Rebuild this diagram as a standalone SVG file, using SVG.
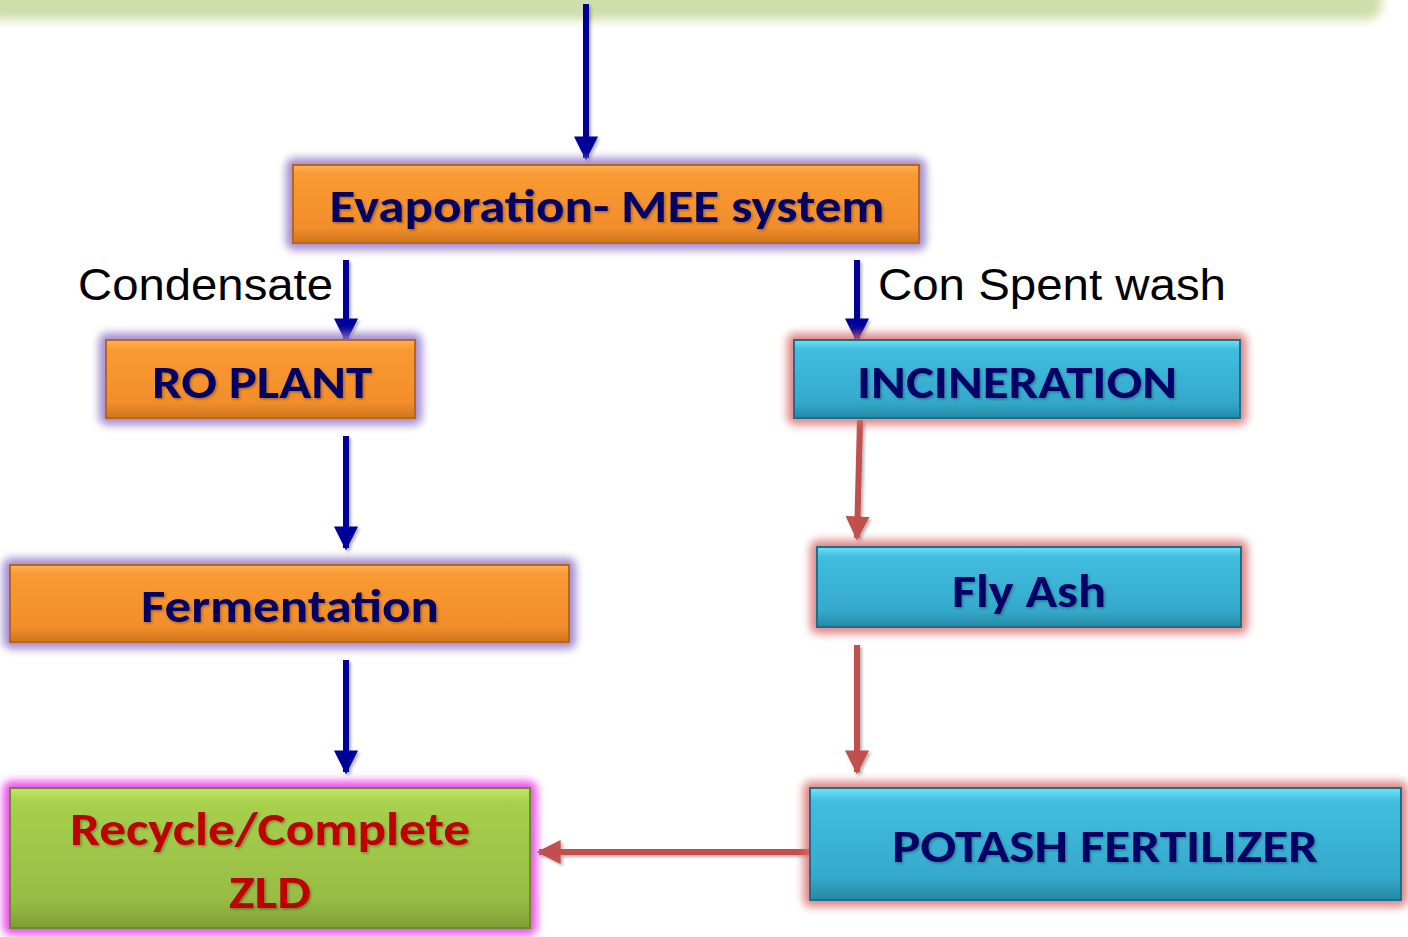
<svg xmlns="http://www.w3.org/2000/svg" width="1408" height="937" viewBox="0 0 1408 937">
<defs>
<linearGradient id="band" x1="0" y1="0" x2="0" y2="1">
<stop offset="0" stop-color="#cddca6"/><stop offset="0.5" stop-color="#cfdeaa"/><stop offset="1" stop-color="#f2f2f0" stop-opacity="0"/>
</linearGradient>
<linearGradient id="orange" x1="0" y1="0" x2="0" y2="1">
<stop offset="0" stop-color="#fcb35a"/><stop offset="0.12" stop-color="#fa9a32"/><stop offset="0.8" stop-color="#f28e2b"/><stop offset="1" stop-color="#cf741c"/>
</linearGradient>
<linearGradient id="blue" x1="0" y1="0" x2="0" y2="1">
<stop offset="0" stop-color="#6fe3f8"/><stop offset="0.12" stop-color="#41bde0"/><stop offset="0.8" stop-color="#35a9cb"/><stop offset="1" stop-color="#2588a6"/>
</linearGradient>
<linearGradient id="green" x1="0" y1="0" x2="0" y2="1">
<stop offset="0" stop-color="#c4e66a"/><stop offset="0.1" stop-color="#a7d04d"/><stop offset="0.8" stop-color="#97bd44"/><stop offset="1" stop-color="#7e9e36"/>
</linearGradient>
<filter id="glow" x="-10%" y="-30%" width="120%" height="160%">
<feGaussianBlur stdDeviation="4"/>
</filter>
<filter id="bandblur" x="-5%" y="-50%" width="110%" height="200%">
<feGaussianBlur stdDeviation="5"/>
</filter>
<filter id="tshadow" x="-5%" y="-20%" width="110%" height="140%">
<feDropShadow dx="1.5" dy="1.5" stdDeviation="1" flood-color="#000" flood-opacity="0.3"/>
</filter>
<filter id="ashadow" x="-50%" y="-10%" width="200%" height="130%">
<feDropShadow dx="2" dy="2" stdDeviation="1.5" flood-color="#000" flood-opacity="0.3"/>
</filter>
<marker id="headBlue" viewBox="0 0 10 10" refX="9" refY="5" markerWidth="4" markerHeight="4" orient="auto" markerUnits="strokeWidth">
<path d="M0,0 L10,5 L0,10 z" fill="#000099"/>
</marker>
<marker id="headRed" viewBox="0 0 10 10" refX="9" refY="5" markerWidth="4" markerHeight="4" orient="auto" markerUnits="strokeWidth">
<path d="M0,0 L10,5 L0,10 z" fill="#c0504d"/>
</marker>
</defs>
<style>
.lbl{font-family:Carlito,"Liberation Sans",Arial,sans-serif;font-weight:bold;font-size:46px;fill:#000066;text-anchor:middle}
.red{fill:#c00000}
.plain{font-family:"Liberation Sans",Arial,sans-serif;font-size:44px;fill:#000}
.ob{fill:url(#orange);stroke:#b8661a;stroke-width:2}
.bb{fill:url(#blue);stroke:#1d6f88;stroke-width:2}
.gb{fill:url(#green);stroke:#6d8a2c;stroke-width:2}
.gp{fill:#9378c8;opacity:0.85;filter:url(#glow)}
.gr{fill:#d86a6a;opacity:0.8;filter:url(#glow)}
.gm{fill:#ec4fec;filter:url(#glow)}
.ab{stroke:#000099;stroke-width:6;fill:none;marker-end:url(#headBlue)}
.ar{stroke:#c0504d;stroke-width:6;fill:none;marker-end:url(#headRed)}
</style>
<rect width="1408" height="937" fill="#fff"/>
<rect x="-20" y="-30" width="1402" height="50" rx="16" fill="#cfdeab" filter="url(#bandblur)"/>

<g id="connectors" filter="url(#ashadow)">
<line class="ab" x1="586" y1="4" x2="586" y2="158"/>
<line class="ab" x1="346" y1="260" x2="346" y2="340"/>
<line class="ab" x1="857" y1="260" x2="857" y2="340"/>
<line class="ab" x1="346" y1="436" x2="346" y2="548"/>
<line class="ab" x1="346" y1="660" x2="346" y2="772"/>
<line class="ar" x1="860" y1="420" x2="857" y2="538"/>
<line class="ar" x1="857" y1="645" x2="857" y2="772"/>
<line class="ar" x1="810" y1="852" x2="539" y2="852"/>
</g>

<g id="mee">
<rect class="gp" x="286" y="158" width="640" height="92" rx="8"/>
<rect class="ob" x="293" y="165" width="626" height="78"/>
<text class="lbl" x="607" y="222" textLength="555" lengthAdjust="spacingAndGlyphs" filter="url(#tshadow)">Evaporation- MEE system</text>
</g>

<g id="label-condensate"><text class="plain" x="78" y="300" textLength="255" lengthAdjust="spacingAndGlyphs">Condensate</text></g>
<g id="label-spent"><text class="plain" x="878" y="300" textLength="348" lengthAdjust="spacingAndGlyphs">Con Spent wash</text></g>

<g id="ro">
<rect class="gp" x="99" y="333" width="323" height="92" rx="8"/>
<rect class="ob" x="106" y="340" width="309" height="78"/>
<text class="lbl" x="262" y="398" textLength="220" lengthAdjust="spacingAndGlyphs" filter="url(#tshadow)">RO PLANT</text>
</g>

<g id="incineration">
<rect class="gr" x="787" y="333" width="460" height="92" rx="8"/>
<rect class="bb" x="794" y="340" width="446" height="78"/>
<text class="lbl" x="1017" y="398" textLength="320" lengthAdjust="spacingAndGlyphs" filter="url(#tshadow)">INCINERATION</text>
</g>

<g id="fermentation">
<rect class="gp" x="3" y="558" width="573" height="91" rx="8"/>
<rect class="ob" x="10" y="565" width="559" height="77"/>
<text class="lbl" x="290" y="622" textLength="298" lengthAdjust="spacingAndGlyphs" filter="url(#tshadow)">Fermentation</text>
</g>

<g id="flyash">
<rect class="gr" x="810" y="540" width="438" height="94" rx="8"/>
<rect class="bb" x="817" y="547" width="424" height="80"/>
<text class="lbl" x="1029" y="607" textLength="154" lengthAdjust="spacingAndGlyphs" filter="url(#tshadow)">Fly Ash</text>
</g>

<g id="recycle">
<rect class="gm" x="3" y="781" width="534" height="154" rx="8"/>
<rect class="gb" x="10" y="788" width="520" height="140"/>
<text class="lbl red" x="270" y="845" textLength="400" lengthAdjust="spacingAndGlyphs" filter="url(#tshadow)">Recycle/Complete</text>
<text class="lbl red" x="270" y="908" textLength="82" lengthAdjust="spacingAndGlyphs" filter="url(#tshadow)">ZLD</text>
</g>

<g id="potash">
<rect class="gr" x="803" y="781" width="605" height="126" rx="8"/>
<rect class="bb" x="810" y="788" width="591" height="112"/>
<text class="lbl" x="1105" y="862" textLength="426" lengthAdjust="spacingAndGlyphs" filter="url(#tshadow)">POTASH FERTILIZER</text>
</g>
</svg>
